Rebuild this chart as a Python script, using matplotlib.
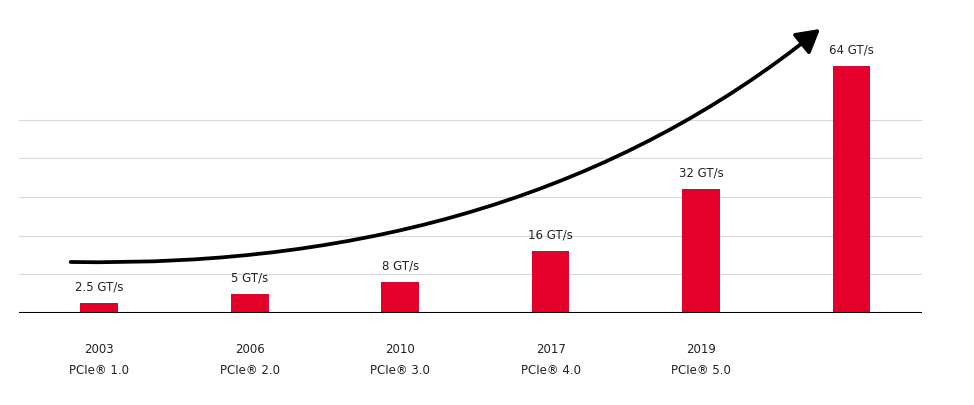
import matplotlib
matplotlib.use("Agg")
import matplotlib.pyplot as plt
from matplotlib.path import Path
from matplotlib.patches import FancyArrowPatch

years = ["2003", "2006", "2010", "2017", "2019", ""]
gens = ["PCIe® 1.0", "PCIe® 2.0", "PCIe® 3.0", "PCIe® 4.0", "PCIe® 5.0", ""]
rates = [2.5, 5, 8, 16, 32, 64]
rate_labels = ["2.5 GT/s", "5 GT/s", "8 GT/s", "16 GT/s", "32 GT/s", "64 GT/s"]
grid_vals = [10, 20, 30, 40, 50]

fig = plt.figure(figsize=(9.74, 4.05), dpi=100)
ax = fig.add_axes([0.02, 1 - 313/405, 0.927, 313/405])
x = list(range(len(rates)))
ax.bar(x, rates, width=0.25, color="#e4002b", zorder=3)
for v in grid_vals:
    ax.axhline(v, color="#d9d9d9", lw=0.8, zorder=1)
ax.axhline(0, color="black", lw=1.5, zorder=4)
ax.set_xlim(-0.53, 5.47)
ax.set_ylim(0, 81)
ax.axis("off")
for i, (r, lab) in enumerate(zip(rates, rate_labels)):
    ax.text(i, r + 2.5, lab, ha="center", va="bottom", fontsize=8.5, color="#222222")
    if years[i]:
        ax.text(i, -9.5, years[i], ha="center", va="center", fontsize=8.5, color="#222222")
        ax.text(i, -14.8, gens[i], ha="center", va="center", fontsize=8.5, color="#222222")

path = Path([(-0.19, 13.2), (2.8, 11.1), (4.79, 73.5)],
            [Path.MOVETO, Path.CURVE3, Path.CURVE3])
arrow = FancyArrowPatch(path=path, arrowstyle="-|>,head_length=14,head_width=8",
                        lw=2.7, color="black", zorder=5, clip_on=False)
ax.add_patch(arrow)
fig.savefig("out.png", facecolor="white")
